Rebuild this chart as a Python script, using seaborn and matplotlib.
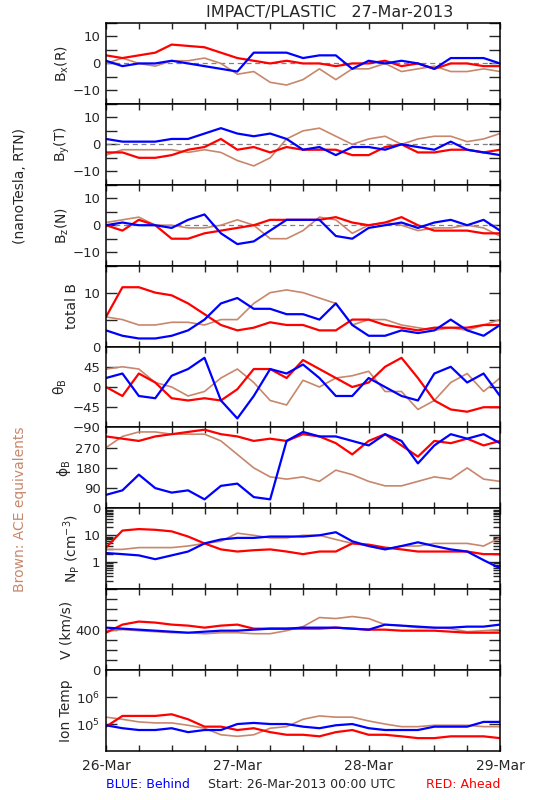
import matplotlib
matplotlib.use("Agg")
import matplotlib.pyplot as plt
import seaborn as sns
import pandas as pd
from matplotlib.ticker import MultipleLocator, FixedLocator, LogLocator, NullFormatter, NullLocator

# sample times, hours since 26-Mar-2013 00:00 UTC
hours = [0, 3, 6, 9, 12, 15, 18, 21, 24, 27, 30, 33, 36,
         39, 42, 45, 48, 51, 54, 57, 60, 63, 66, 69, 72]

# magnetic field (nT, RTN)
bx_red = [3, 2, 3, 4, 7, 6.5, 6, 4, 2, 1, 0, 1, 0, 0, -1, 0, 0, 1, -1, 0, -2, 0, 0, -1, -1]
bx_blue = [1, -1, 0, 0, 1, 0, -1, -2, -3, 4, 4, 4, 2, 3, 3, -2, 1, 0, 1, 0, -2, 2, 2, 2, 0]
bx_ace = [0, 2, 0, -1, 1, 1, 2, 0, -4, -3, -7, -8, -6, -2, -6, -2, -2, 0, -3, -2, -1, -3, -3, -2, -3]

by_red = [-3, -3, -5, -5, -4, -2, -1, 2, -2, -1, -3, -1, -2, -2, -2, -4, -4, -1, 0, -3, -3, -2, -2, -3, -2]
by_blue = [2, 1, 1, 1, 2, 2, 4, 6, 4, 3, 4, 2, -2, -1, -4, -1, -1, -2, 0, -1, -2, 1, -2, -3, -4]
by_ace = [-4, -2, -2, -2, -2, -3, -2, -3, -6, -8, -5, 2, 5, 6, 3, 0, 2, 3, 0, 2, 3, 3, 1, 2, 4]

bz_red = [0, -2, 2, 0, -5, -5, -3, -2, -1, 0, 2, 2, 2, 2, 3, 1, 0, 1, 3, 0, -2, -2, -2, -3, -3]
bz_blue = [0, 1, 0, 0, -1, 2, 4, -3, -7, -6, -2, 2, 2, 2, -4, -5, -1, 0, 1, -1, 1, 2, 0, 2, -2]
bz_ace = [1, 2, 3, 0, 0, -1, -1, 0, 2, 0, -5, -5, -2, 3, 2, -3, 0, 1, 0, -2, -1, -1, 0, -1, -4]

bt_red = [5.5, 11, 11, 10, 9.5, 8, 6, 4, 3, 3.5, 4.5, 4, 4, 3, 3, 5, 5, 4, 3.5, 3, 3.5, 3.5, 3.5, 4, 4]
bt_blue = [3, 2, 1.5, 1.5, 2, 3, 5, 8, 9, 7, 7, 6, 6, 5, 8, 4, 2, 2, 3, 2.5, 3, 5, 3, 2, 4]
bt_ace = [5.5, 5, 4, 4, 4.5, 4.5, 4, 5, 5, 8, 10, 10.5, 10, 9, 8, 4, 5, 5, 4, 3.5, 3, 3.5, 3, 4, 5]

theta_red = [0, -20, 30, 10, -25, -30, -25, -30, -5, 40, 40, 20, 60, 40, 20, 0, 10, 45, 65, 20, -30, -50, -55, -45, -45]
theta_blue = [20, 30, -20, -25, 25, 40, 65, -30, -70, -20, 40, 30, 50, 20, -20, -20, 20, 0, -20, -30, 30, 45, 10, 30, -20]
theta_ace = [40, 45, 40, 10, 0, -20, -10, 20, 40, 10, -30, -40, 15, 0, 20, 25, 35, -10, -10, -50, -30, 10, 30, -10, 20]

phi_red = [320, 310, 300, 320, 330, 340, 350, 330, 320, 300, 310, 300, 330, 320, 290, 240, 300, 330, 280, 230, 300, 290, 310, 280, 300]
phi_blue = [60, 80, 150, 90, 70, 80, 40, 100, 110, 50, 40, 300, 340, 320, 320, 300, 280, 330, 300, 200, 280, 330, 310, 330, 290]
phi_ace = [270, 320, 340, 340, 330, 330, 330, 300, 240, 180, 140, 130, 140, 120, 170, 150, 120, 100, 100, 120, 140, 130, 180, 130, 120]

# plasma
np_red = [3.5, 15, 17, 16, 14, 9, 5, 3, 2.5, 2.8, 3, 2.5, 2, 2.5, 2.5, 5, 4.5, 3.5, 3, 2.5, 2.5, 2.5, 2.5, 2, 2]
np_blue = [2.2, 2, 1.8, 1.3, 1.8, 2.5, 5, 7, 8, 8, 9, 9, 9, 10, 13, 6, 4, 3, 4, 5.5, 4, 3, 2.5, 1.2, 0.6]
np_ace = [3, 3, 3.5, 3.5, 3.5, 4, 5, 6, 12, 10, 8, 8, 10, 10, 7, 5, 4, 3, 4, 4, 5, 5, 5, 4, 8]

v_red = [370, 450, 480, 470, 450, 440, 420, 440, 450, 410, 410, 410, 410, 410, 420, 410, 400, 400, 390, 390, 390, 380, 370, 370, 370]
v_blue = [420, 410, 400, 390, 380, 370, 380, 390, 390, 400, 410, 410, 420, 420, 420, 410, 400, 450, 440, 430, 420, 420, 430, 430, 450]
v_ace = [390, 400, 390, 380, 370, 370, 360, 370, 370, 360, 360, 390, 430, 520, 510, 530, 510, 450, 440, 420, 420, 410, 380, 390, 400]

t_red = [8e4, 2e5, 2e5, 2e5, 2.3e5, 1.5e5, 8e4, 8e4, 6e4, 7e4, 5e4, 4e4, 4e4, 3.5e4, 5e4, 6e4, 4e4, 4e4, 3.5e4, 3e4, 3e4, 3.5e4, 3.5e4, 3.5e4, 3e4]
t_blue = [9e4, 7e4, 6e4, 6e4, 7e4, 5e4, 6e4, 6e4, 1e5, 1.1e5, 1e5, 1e5, 8e4, 7e4, 9e4, 1e5, 7e4, 6e4, 6e4, 6e4, 8e4, 8e4, 8e4, 1.2e5, 1.2e5]
t_ace = [1.8e5, 1.5e5, 1.2e5, 1.1e5, 1.1e5, 9e4, 7e4, 4e4, 3.5e4, 4e4, 7e4, 8e4, 1.5e5, 2e5, 1.8e5, 1.8e5, 1.3e5, 1e5, 8e4, 8e4, 9e4, 9e4, 9e4, 8e4, 8e4]

day_ticks = [0, 24, 48, 72]
day_labels = ["26-Mar", "27-Mar", "28-Mar", "29-Mar"]

RED = "#ff0000"
BLUE = "#0000ff"
BROWN = "#c8876c"

sns.set_style("white")
plt.rcParams["font.family"] = ["DejaVu Sans"]
plt.rcParams["mathtext.default"] = "regular"

fig = plt.figure(figsize=(5.5, 8), dpi=100)

left = 106 / 550
width = 394 / 550
top = 1 - 23 / 800
h = 728 / 9 / 800

panels = [
    (r"B$_x$(R)", bx_red, bx_blue, bx_ace, (-15, 15), [-10, 0, 10], ["\u221210", "0", "10"], 5, 62, True),
    (r"B$_y$(T)", by_red, by_blue, by_ace, (-15, 15), [-10, 0, 10], ["\u221210", "0", "10"], 5, 62, True),
    (r"B$_z$(N)", bz_red, bz_blue, bz_ace, (-15, 15), [-10, 0, 10], ["\u221210", "0", "10"], 5, 62, True),
    ("total B", bt_red, bt_blue, bt_ace, (0, 15), [0, 10], ["0", "10"], 5, 72, False),
    (r"$\theta_B$", theta_red, theta_blue, theta_ace, (-90, 90), [-90, -45, 0, 45], ["\u221290", "\u221245", "0", "45"], None, 60, False),
    (r"$\phi_B$", phi_red, phi_blue, phi_ace, (0, 360), [0, 90, 180, 270], ["0", "90", "180", "270"], None, 64, False),
    (r"N$_P$ (cm$^{-3}$)", np_red, np_blue, np_ace, (0.1, 100), [1, 10], ["1", "10"], "log", 72, False),
    ("V (km/s)", v_red, v_blue, v_ace, (0, 800), [0, 400], ["0", "400"], 100, 66, False),
    ("Ion Temp", t_red, t_blue, t_ace, (1e4, 1e7), [1e5, 1e6], [r"10$^5$", r"10$^6$"], "logT", 66, False),
]

axes = []
for i, (label, red, blue, ace, ylim, yt, ytl, minor, lab_x, zero_line) in enumerate(panels):
    ax = fig.add_axes([left, top - (i + 1) * h, width, h])
    axes.append(ax)
    if minor in ("log", "logT"):
        ax.set_yscale("log")
    if zero_line:
        ax.axhline(0, color="gray", lw=0.9, ls=(0, (4, 3)), zorder=1)
    sns.lineplot(x=hours, y=ace, ax=ax, color=BROWN, lw=1.2, estimator=None, sort=False)
    sns.lineplot(x=hours, y=red, ax=ax, color=RED, lw=1.6, estimator=None, sort=False)
    sns.lineplot(x=hours, y=blue, ax=ax, color=BLUE, lw=1.6, estimator=None, sort=False)
    ax.set_xlim(0, 72)
    ax.set_ylim(*ylim)
    ax.yaxis.set_major_locator(FixedLocator(yt))
    ax.set_yticklabels(ytl)
    if minor == "log":
        ax.yaxis.set_minor_locator(LogLocator(base=10, subs=range(2, 10)))
        ax.yaxis.set_minor_formatter(NullFormatter())
    elif minor == "logT":
        ax.yaxis.set_minor_locator(NullLocator())
    elif minor is not None:
        ax.yaxis.set_minor_locator(MultipleLocator(minor))
    ax.xaxis.set_major_locator(FixedLocator(day_ticks))
    ax.xaxis.set_minor_locator(MultipleLocator(6))
    ax.tick_params(axis="y", which="major", direction="in", left=True, right=True,
                   length=8, width=1, labelsize=9.5, pad=4)
    ax.tick_params(axis="y", which="minor", direction="in", left=True, right=True,
                   length=5 if minor == "log" else 8, width=1)
    ax.tick_params(axis="x", which="both", direction="in", bottom=True, top=True,
                   length=4, width=1, labelsize=10, pad=6)
    if i < len(panels) - 1:
        ax.set_xticklabels([])
    else:
        ax.set_xticklabels(day_labels)
    ax.set_xlabel("")
    ax.set_ylabel("")
    for s in ax.spines.values():
        s.set_linewidth(1.1)
        s.set_color("black")
    ax.text((lab_x - 106) / 394, 0.5, label, transform=ax.transAxes, rotation=90,
            ha="center", va="center", fontsize=10)

fig.text(330 / 550, 1 - 12 / 800, "IMPACT/PLASTIC   27-Mar-2013", ha="center", va="center", fontsize=11.5)
fig.text(20 / 550, 1 - 186 / 800, "(nanoTesla, RTN)", rotation=90, ha="center", va="center", fontsize=10)
fig.text(20 / 550, 1 - 509 / 800, "Brown: ACE equivalents", rotation=90, ha="center", va="center",
         fontsize=10, color=BROWN)
fig.text(106 / 550, 1 - 784 / 800, "BLUE: Behind", ha="left", va="center", fontsize=9, color=BLUE)
fig.text(302 / 550, 1 - 784 / 800, "Start: 26-Mar-2013 00:00 UTC", ha="center", va="center", fontsize=9)
fig.text(500 / 550, 1 - 784 / 800, "RED: Ahead", ha="right", va="center", fontsize=9, color=RED)

fig.savefig("out.png", dpi=100)
plt.close(fig)
